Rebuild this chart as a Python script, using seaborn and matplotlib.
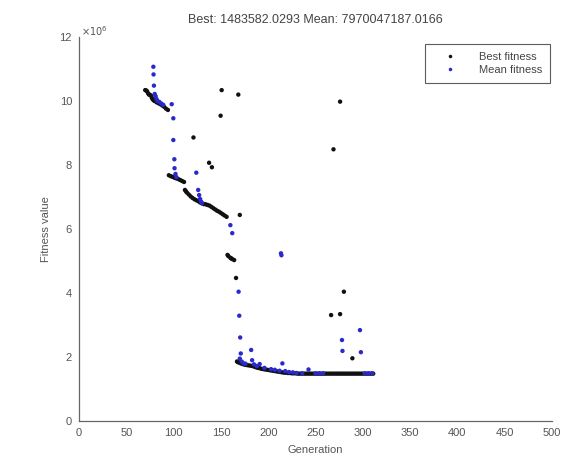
import pandas as pd
import seaborn as sns
import matplotlib.pyplot as plt

# fitness values are in units of 1e6
# best fitness: the stepped curve, then the scattered dark points
best_gen = [70, 71, 72, 73, 74, 75, 76, 77, 78, 79, 80, 82, 84, 86, 88, 90, 92, 94,
            95, 97, 99, 101, 103, 105, 107, 109, 111,
            112, 113, 114, 116, 118, 120, 122, 124, 126, 128, 130, 132, 134, 136, 138,
            140, 142, 144, 146, 148, 150, 152, 154, 156,
            157, 158, 160, 161, 162, 164, 166,
            167, 168, 169, 171, 173, 175, 177, 179, 181, 183, 185, 187, 189,
            191, 193, 195, 197, 199, 201, 203, 205, 207, 209,
            211, 213, 215, 217, 219, 221, 223, 225, 227, 229,
            231, 233, 235, 237, 239, 241, 243, 245, 247, 249,
            251, 253, 255, 257, 259, 261, 263, 265, 267, 269,
            271, 273, 275, 277, 279, 281, 283, 285, 287, 289,
            291, 293, 295, 297, 299, 301, 303, 305, 307, 309, 311,
            121, 137.5, 140.5, 149.7, 150.8, 168.4, 170, 266.5, 269, 276, 276, 280, 289]
best_val = [10.34, 10.33, 10.30, 10.24, 10.20, 10.19, 10.17, 10.10, 10.05, 10.02, 10.00,
            9.96, 9.93, 9.90, 9.86, 9.82, 9.76, 9.72,
            7.68, 7.65, 7.63, 7.60, 7.58, 7.56, 7.53, 7.50, 7.47,
            7.22, 7.18, 7.14, 7.08, 7.02, 6.97, 6.93, 6.90, 6.87, 6.83, 6.80, 6.78, 6.77,
            6.75, 6.73, 6.69, 6.65, 6.61, 6.57, 6.54, 6.50, 6.46, 6.42, 6.38,
            5.19, 5.15, 5.10, 5.08, 5.06, 5.03, 4.47,
            1.86, 1.84, 1.83, 1.80, 1.78, 1.76, 1.75, 1.74, 1.73, 1.72, 1.70, 1.68, 1.66,
            1.65, 1.63, 1.62, 1.61, 1.60, 1.59, 1.58, 1.57, 1.56, 1.55,
            1.54, 1.53, 1.52, 1.51, 1.51, 1.50, 1.50, 1.49, 1.49, 1.49,
            1.48, 1.48, 1.48, 1.48, 1.48, 1.48, 1.48, 1.48, 1.48, 1.48,
            1.48, 1.48, 1.48, 1.48, 1.48, 1.48, 1.48, 1.48, 1.48, 1.48,
            1.48, 1.48, 1.48, 1.48, 1.48, 1.48, 1.48, 1.48, 1.48, 1.48,
            1.48, 1.48, 1.48, 1.48, 1.48, 1.48, 1.48, 1.48, 1.48, 1.48, 1.48,
            8.86, 8.07, 7.93, 9.54, 10.34, 10.20, 6.44, 3.31, 8.49, 3.34, 9.98, 4.04, 1.96]

mean_gen = [78.6, 78.8, 79.2, 80, 81, 82, 83, 85, 87, 89,
            98, 99.7, 99.7, 100.8, 101, 102, 103, 124, 126, 127,
            128, 129, 130, 160, 162, 168.7, 169.4, 170.4, 171, 170,
            172, 174, 176, 182, 183, 185, 188, 191, 196, 203,
            207, 212, 213.5, 214, 215, 218, 222, 226, 230, 236,
            242.6, 250, 254, 258, 278, 278.5, 297, 298, 302, 306,
            310]
mean_val = [11.07, 10.83, 10.48, 10.22, 10.15, 10.06, 10.00, 9.97, 9.92, 9.88,
            9.90, 9.46, 8.78, 8.18, 7.90, 7.72, 7.62, 7.76, 7.22, 7.06,
            6.94, 6.86, 6.81, 6.12, 5.87, 4.04, 3.29, 2.61, 2.11, 1.95,
            1.86, 1.80, 1.79, 2.22, 1.90, 1.77, 1.72, 1.78, 1.66, 1.62,
            1.60, 1.57, 5.24, 5.18, 1.80, 1.56, 1.53, 1.52, 1.50, 1.49,
            1.61, 1.49, 1.49, 1.49, 2.53, 2.19, 2.84, 2.15, 1.49, 1.49,
            1.49]

title = 'Best: 1483582.0293 Mean: 7970047187.0166'

df = pd.concat([
    pd.DataFrame({'gen': best_gen, 'value': best_val, 'series': 'Best fitness'}),
    pd.DataFrame({'gen': mean_gen, 'value': mean_val, 'series': 'Mean fitness'}),
])

sns.set_style('white')
plt.rcParams['font.family'] = ['Liberation Sans', 'DejaVu Sans']

fig = plt.figure(figsize=(5.72, 4.59), dpi=100)
ax = fig.add_axes([79 / 572, 38 / 459, 473 / 572, 384 / 459])

sns.scatterplot(data=df, x='gen', y='value', hue='series',
                palette={'Best fitness': '#111111', 'Mean fitness': '#2a2acc'},
                s=10, linewidth=0, ax=ax)

ax.set_xlim(0, 500)
ax.set_ylim(0, 12)
ax.set_xticks(range(0, 501, 50))
ax.set_yticks(range(0, 13, 2))
grey = '#555555'
ax.tick_params(direction='in', length=4, width=0.8, colors=grey, labelsize=8, pad=5)
for s in ['top', 'right']:
    ax.spines[s].set_visible(False)
for s in ['left', 'bottom']:
    ax.spines[s].set_color('#666666')
    ax.spines[s].set_linewidth(0.9)

ax.set_xlabel('Generation', fontsize=8, color=grey, labelpad=5)
ax.set_ylabel('Fitness value', fontsize=8, color=grey, labelpad=6)

fig.text(315 / 572, 1 - 20 / 459, title, ha='center', va='center', fontsize=9, color='#444444')
fig.text(81 / 572, 1 - 31 / 459, r'$\times10^{6}$', ha='left', va='center', fontsize=7, color=grey)

leg = ax.legend(loc='upper right', bbox_to_anchor=(550 / 572, 1 - 44 / 459),
                bbox_transform=fig.transFigure, fontsize=8, frameon=True, fancybox=False,
                borderpad=0.7, handlelength=3.2, handletextpad=1.0, labelspacing=0.3,
                markerscale=0.8, borderaxespad=0)
leg.get_frame().set_edgecolor('#333333')
leg.get_frame().set_linewidth(0.8)
for t in leg.get_texts():
    t.set_color('#444444')
for h in leg.legend_handles:
    h.set_color('#111111')

fig.savefig('out.png', dpi=100)
